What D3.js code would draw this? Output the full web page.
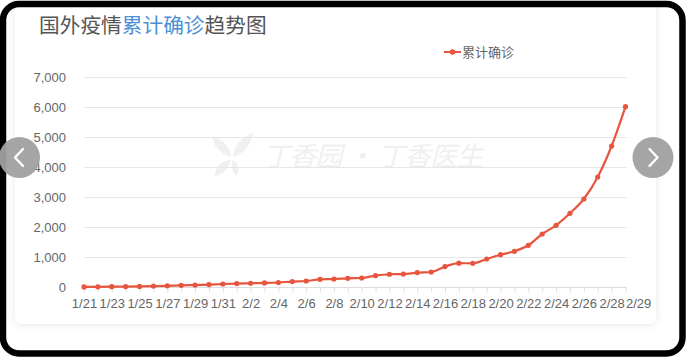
<!DOCTYPE html>
<html><head><meta charset="utf-8">
<script src="https://cdn.jsdelivr.net/npm/d3@7"></script>
<style>
html,body{margin:0;padding:0;background:#fff;}
svg{display:block;font-family:"Noto Sans CJK SC","Noto Sans",sans-serif;}
</style></head>
<body><svg id="chart" width="686" height="358"></svg>
<script>
const titleParts = [["国外疫情","#555555"],["累计确诊","#4d8fd6"],["趋势图","#555555"]];
const seriesName = "累计确诊";
const dates = ["1/21","1/22","1/23","1/24","1/25","1/26","1/27","1/28","1/29","1/30","1/31",
  "2/1","2/2","2/3","2/4","2/5","2/6","2/7","2/8","2/9","2/10","2/11","2/12","2/13","2/14","2/15",
  "2/16","2/17","2/18","2/19","2/20","2/21","2/22","2/23","2/24","2/25","2/26","2/27","2/28","2/29"];
const values = [4,7,10,13,20,30,40,55,65,80,100,
  115,125,135,150,180,200,255,265,290,300,380,425,430,480,500,
  680,795,790,933,1077,1190,1390,1767,2057,2457,2933,3667,4700,6010];
const yTicks = [0,1000,2000,3000,4000,5000,6000,7000];
const watermark = "丁香园 · 丁香医生";
const NUMFONT = '"Liberation Sans",Arial,sans-serif';

const svg = d3.select("#chart");
const defs = svg.append("defs");
const f = defs.append("filter").attr("id","sh").attr("x","-10%").attr("y","-10%").attr("width","120%").attr("height","120%");
f.append("feDropShadow").attr("dx",0).attr("dy",1).attr("stdDeviation",4).attr("flood-color","#000").attr("flood-opacity",0.09);

// card
svg.append("rect").attr("x",15).attr("y",-12).attr("width",641).attr("height",336).attr("rx",8)
  .attr("fill","#fff").attr("filter","url(#sh)");

// watermark
const wm = svg.append("g").attr("fill","#f0f0f0");
const leaf = wm.append("g").attr("transform","translate(232,155)");
leaf.append("path").attr("d","M-1,2 C-14,-2 -20,-12 -19,-19 C-9,-16 -2,-8 -1,2 Z");
leaf.append("path").attr("d","M1,2 C2,-10 10,-19 21,-22 C19,-9 11,-1 1,2 Z");
leaf.append("path").attr("d","M-1,5 C-12,6 -18,14 -17,21 C-8,19 -3,13 -1,5 Z");
leaf.append("path").attr("d","M1,5 C8,10 8,17 4,21 C-1,15 -1,9 1,5 Z");
wm.append("text").attr("x",263).attr("y",166).attr("font-size",27).attr("font-style","italic")
  .attr("textLength",220).text(watermark);

// title
const t = svg.append("text").attr("x",39).attr("y",33).attr("font-size",20.7);
titleParts.forEach(p => t.append("tspan").attr("fill",p[1]).text(p[0]));

// scales
const x = d3.scalePoint().domain(dates).range([84,625.5]);
const y = d3.scaleLinear().domain([0,7000]).range([287,77]);

// grid
svg.append("g").selectAll("line").data(yTicks).join("line")
  .attr("x1",84).attr("x2",626.5)
  .attr("y1",d=>Math.round(y(d))+0.5).attr("y2",d=>Math.round(y(d))+0.5)
  .attr("stroke","#e6e6e6").attr("stroke-width",1);

// y axis
const yAxis = svg.append("g").attr("transform","translate(66,0)")
  .call(d3.axisLeft(y).tickValues(yTicks).tickFormat(d3.format(",")).tickSize(0).tickPadding(0))
  .attr("font-family",NUMFONT);
yAxis.select(".domain").remove();
yAxis.selectAll("text").attr("fill","#666").attr("font-size",13).attr("dy","0.35em");

// x axis
const last = dates.length-1;
const xAxis = svg.append("g").attr("transform","translate(0,287.5)")
  .call(d3.axisBottom(x).tickSize(5).tickPadding(6)
    .tickFormat((d,i)=> (i%2===0 || i===last) ? d : ""))
  .attr("font-family",NUMFONT);
xAxis.select(".domain").attr("stroke","#dcdcdc").attr("d","M84,0H626.5");
xAxis.selectAll(".tick line").attr("stroke","#e0e0e0");
xAxis.selectAll("text").attr("fill","#666").attr("font-size",13)
  .attr("text-anchor",(d,i)=> i===last ? "start" : "middle");

// line
const color = "#e8553e";
const line = d3.line().x((d,i)=>x(dates[i])).y(d=>y(d)).curve(d3.curveMonotoneX);
svg.append("path").datum(values).attr("d",line).attr("fill","none")
  .attr("stroke",color).attr("stroke-width",2.2);
svg.append("g").selectAll("circle").data(values).join("circle")
  .attr("cx",(d,i)=>x(dates[i])).attr("cy",d=>y(d)).attr("r",2.6).attr("fill",color);

// legend
const lg = svg.append("g");
lg.append("line").attr("x1",444).attr("x2",461).attr("y1",52).attr("y2",52).attr("stroke",color).attr("stroke-width",2);
lg.append("circle").attr("cx",452.5).attr("cy",52).attr("r",2.8).attr("fill",color);
lg.append("text").attr("x",462).attr("y",52).attr("dy","0.35em").attr("font-size",13).attr("fill","#666").text(seriesName);

// outer frame
svg.append("rect").attr("x",3).attr("y",4).attr("width",679.5).attr("height",349.5).attr("rx",16)
  .attr("fill","none").attr("stroke","#000").attr("stroke-width",6.5);

// nav buttons
function nav(cx, dir){
  const g = svg.append("g").attr("transform",`translate(${cx},157.5)`);
  g.append("circle").attr("r",20.5).attr("fill","#a0a0a0").attr("fill-opacity",0.95);
  g.append("path").attr("d", dir<0 ? "M3.5,-8.5 L-4.5,0 L3.5,8.5" : "M-3.5,-8.5 L4.5,0 L-3.5,8.5")
    .attr("fill","none").attr("stroke","#fff").attr("stroke-width",2.4).attr("stroke-linecap","round").attr("stroke-linejoin","round");
}
nav(19.5,-1);
nav(653,1);
</script></body></html>
